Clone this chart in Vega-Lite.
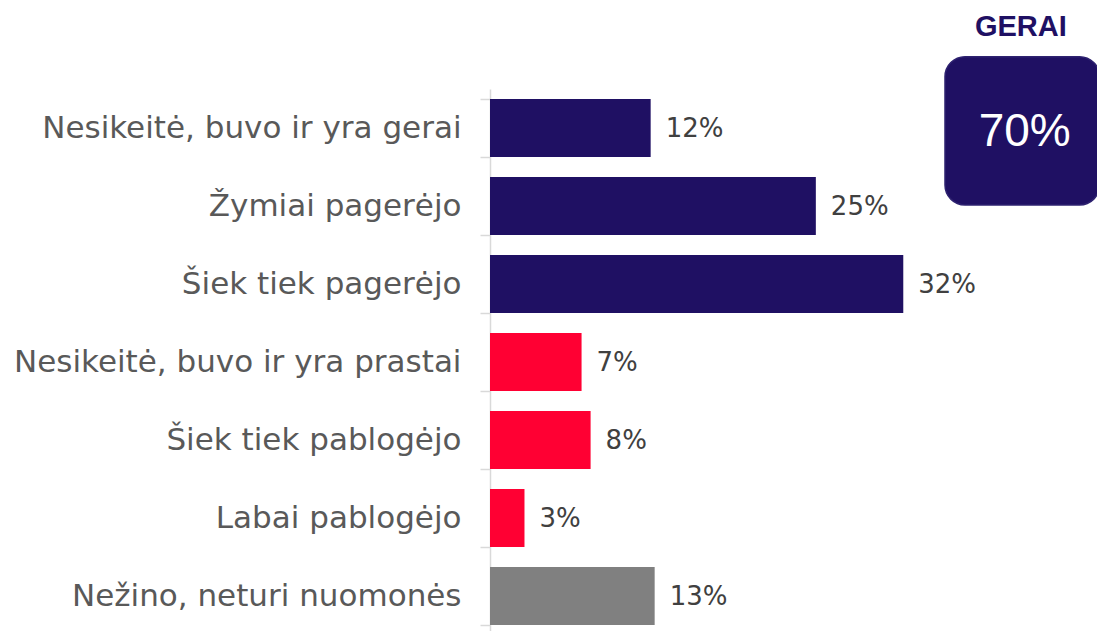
{
  "$schema": "https://vega.github.io/schema/vega-lite/v6.json",
  "autosize": {"type": "none"},
  "width": 607,
  "height": 546,
  "padding": {"left": 490, "top": 89, "right": 0, "bottom": 0},
  "background": "white",
  "config": {"view": {"stroke": null}},
  "resolve": {"scale": {"y": "independent"}, "axis": {"y": "independent"}},
  "layer": [
    {
      "data": {"values": [
        {"cat": "Nesikeitė, buvo ir yra gerai", "value": 12.44, "pct": "12%", "grp": "gerai"},
        {"cat": "Žymiai pagerėjo", "value": 25.23, "pct": "25%", "grp": "gerai"},
        {"cat": "Šiek tiek pagerėjo", "value": 32.0, "pct": "32%", "grp": "gerai"},
        {"cat": "Nesikeitė, buvo ir yra prastai", "value": 7.09, "pct": "7%", "grp": "blogai"},
        {"cat": "Šiek tiek pablogėjo", "value": 7.79, "pct": "8%", "grp": "blogai"},
        {"cat": "Labai pablogėjo", "value": 2.67, "pct": "3%", "grp": "blogai"},
        {"cat": "Nežino, neturi nuomonės", "value": 12.75, "pct": "13%", "grp": "nezino"}
      ]},
      "encoding": {
        "y": {
          "field": "cat", "type": "nominal", "sort": null,
          "scale": {"paddingInner": 0.256, "paddingOuter": 0.128},
          "axis": {
            "title": null, "domainColor": "#d9d9d9", "domainWidth": 1.5,
            "tickColor": "#d9d9d9", "tickWidth": 1.5, "tickSize": 10, "tickBand": "extent",
            "labelFont": "DejaVu Sans", "labelFontSize": 31, "labelColor": "#595959",
            "labelPadding": 19, "labelLimit": 0
          }
        },
        "x": {
          "field": "value", "type": "quantitative",
          "scale": {"domain": [0, 47], "nice": false, "zero": true},
          "axis": null
        }
      },
      "layer": [
        {
          "mark": {"type": "bar"},
          "encoding": {
            "color": {
              "field": "grp", "type": "nominal",
              "scale": {"domain": ["gerai", "blogai", "nezino"], "range": ["#1f1063", "#ff0033", "#808080"]},
              "legend": null
            }
          }
        },
        {
          "mark": {"type": "text", "align": "left", "baseline": "middle", "dx": 15, "dy": 1, "font": "DejaVu Sans", "fontSize": 26, "color": "#404040"},
          "encoding": {"text": {"field": "pct"}}
        }
      ]
    },
    {
      "data": {"values": [
        {"label": "GERAI", "total": "70%", "x0": 35.23, "x1": 47.2, "y0": -0.414, "y1": 1.487, "tx": 41.4, "ty": 0.547, "gx": 41.1, "gy": -0.8}
      ]},
      "layer": [
        {
          "mark": {"type": "rect", "cornerRadius": 20, "fill": "#1f1063", "stroke": "#2e2270", "strokeWidth": 1.5, "clip": false},
          "encoding": {
            "x": {"field": "x0", "type": "quantitative"},
            "x2": {"field": "x1"},
            "y": {"field": "y0", "type": "quantitative", "scale": {"domain": [0, 7], "reverse": true, "nice": false, "zero": false}, "axis": null},
            "y2": {"field": "y1"}
          }
        },
        {
          "mark": {"type": "text", "align": "center", "baseline": "middle", "font": "Liberation Sans", "fontSize": 46, "color": "white"},
          "encoding": {
            "x": {"field": "tx", "type": "quantitative"},
            "y": {"field": "ty", "type": "quantitative"},
            "text": {"field": "total"}
          }
        },
        {
          "mark": {"type": "text", "align": "center", "baseline": "middle", "font": "Liberation Sans", "fontWeight": "bold", "fontSize": 29, "color": "#1f1063"},
          "encoding": {
            "x": {"field": "gx", "type": "quantitative"},
            "y": {"field": "gy", "type": "quantitative"},
            "text": {"field": "label"}
          }
        }
      ]
    }
  ]
}
